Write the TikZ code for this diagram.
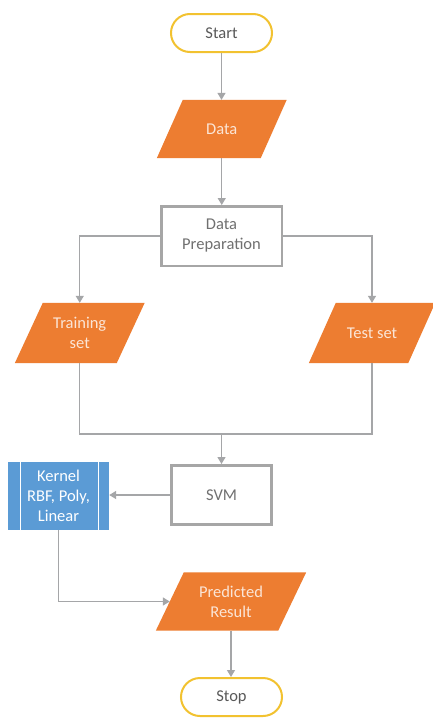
\documentclass[tikz,border=0pt]{standalone}
\usepackage{fontspec}
\setmainfont{Carlito}
\usetikzlibrary{arrows.meta,calc,backgrounds}
\definecolor{orng}{HTML}{ED7D31}
\definecolor{blu}{HTML}{5B9BD5}
\definecolor{yel}{HTML}{F2C230}
\definecolor{lin}{HTML}{A5A6A8}
\definecolor{brd}{HTML}{A6A6A6}
\definecolor{cream}{HTML}{FBE5D6}
\definecolor{dtext}{HTML}{595959}
\definecolor{gtext}{HTML}{707070}
\begin{document}
\begin{tikzpicture}[x=1pt,y=-1pt,
  every node/.style={font=\fontsize{16.5}{20}\selectfont, align=center, inner sep=0pt},
  term/.style={draw=yel, line width=2pt, rounded corners=19pt, minimum width=101pt, minimum height=38pt, text=dtext, fill=white},
  proc/.style={draw=brd, line width=2.5pt, minimum width=120.5pt, minimum height=59.5pt, text=gtext, fill=white},
  svmbox/.style={draw=brd, line width=3pt, minimum width=100pt, minimum height=59pt, text=gtext, fill=white},
  io/.style={text=cream},
  kern/.style={fill=blu, minimum width=101pt, minimum height=68pt, text=white},
  conn/.style={draw=lin, line width=1.3pt},
  arr/.style={conn, -{Triangle[width=8pt,length=7pt]}}
]
\useasboundingbox (0,0) rectangle (433,718);

% terminators
\node[term] (start) at (221.5,33) {Start};
\node[term] (stop) at (231.5,697) {Stop};

% io parallelograms (named nodes, shape filled behind)
\node[io, minimum width=103.5pt, minimum height=58pt] (data) at (221.75,129) {Data};
\node[io, minimum width=101.5pt, minimum height=60pt] (train) at (79.75,333) {Training\\set};
\node[io, minimum width=99pt, minimum height=60pt] (test) at (372,333) {Test set};
\node[io, minimum width=122pt, minimum height=58pt] (pred) at (231,601.5) {Predicted\\Result};
\begin{pgfonlayer}{background}
  \fill[white] (0,0) rectangle (433,718);
  \foreach \n/\s in {data/13, train/14, test/13.5, pred/14}{
    \fill[orng] ($(\n.north west)+(\s,0)$) -- ($(\n.north east)+(\s,0)$)
      -- ($(\n.south east)+(-\s,0)$) -- ($(\n.south west)+(-\s,0)$) -- cycle;
  }
\end{pgfonlayer}

% process boxes
\node[proc] (prep) at (221.5,236) {Data\\Preparation};
\node[svmbox] (svm) at (221.5,495) {SVM};

% predefined process
\node[kern] (kernel) at (58.5,496) {Kernel\\RBF, Poly,\\Linear};
\draw[white, line width=0.8pt] ($(kernel.north west)+(12.5,0)$) -- ($(kernel.south west)+(12.5,0)$);
\draw[white, line width=0.8pt] ($(kernel.north east)+(-11,0)$) -- ($(kernel.south east)+(-11,0)$);

% connectors
\draw[arr] (start.south) -- (start.south |- data.north);
\draw[arr] (data.south) -- (data.south |- prep.north);
\draw[arr] (prep.west) -| (train.north);
\draw[arr] (prep.east) -| (test.north);
\coordinate (j) at (221.5,434);
\draw[conn] (train.south) |- (j) -| (test.south);
\draw[arr] (j) -- (svm.north);
\draw[arr] (svm.west) -- (svm.west -| kernel.east);
\draw[arr] (kernel.south) |- (pred.west);
\draw[arr] (pred.south) -- (pred.south |- stop.north);
\end{tikzpicture}
\end{document}
